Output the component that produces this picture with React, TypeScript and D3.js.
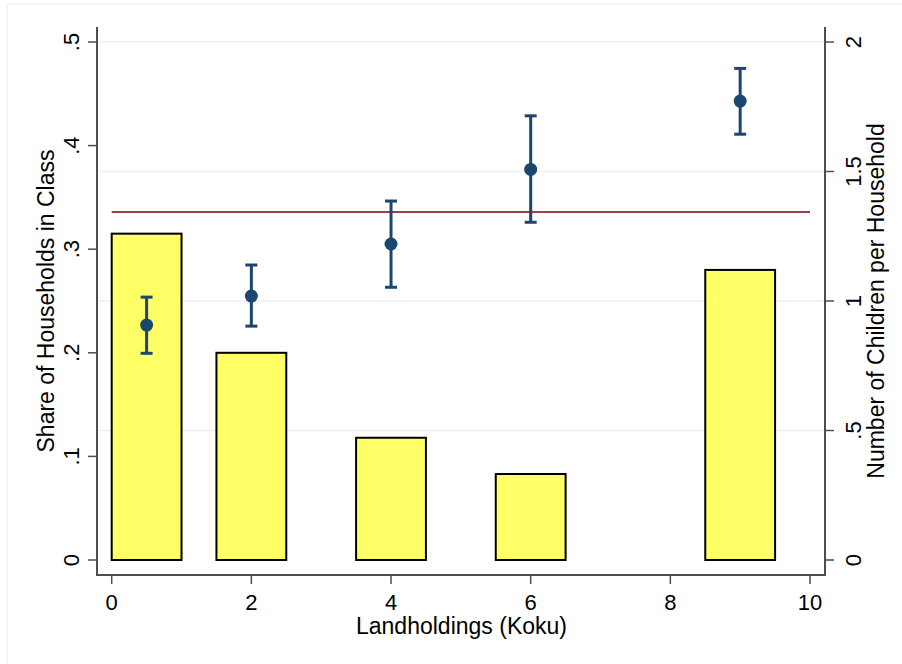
import React from 'react';
import * as d3 from 'd3';

// histogram bars: share of households in each landholding class
const barStart = [0, 1.5, 3.5, 5.5, 8.5];
const barEnd = [1, 2.5, 4.5, 6.5, 9.5];
const barShare = [0.315, 0.2, 0.118, 0.083, 0.28];

// children per household, mean with confidence interval
const pointX = [0.5, 2, 4, 6, 9];
const pointMean = [0.907, 1.019, 1.22, 1.508, 1.772];
const pointLow = [0.798, 0.903, 1.053, 1.304, 1.644];
const pointHigh = [1.015, 1.139, 1.386, 1.715, 1.898];

// overall mean line (right axis)
const overallMean = 1.344;

const xTicks = [0, 2, 4, 6, 8, 10];
const leftTicks = [0, 0.1, 0.2, 0.3, 0.4, 0.5];
const rightTicks = [0, 0.5, 1, 1.5, 2];

const font = '"Liberation Sans", Arial, sans-serif';
const fmtLeft = (v: number) => (v === 0 ? '0' : d3.format('.1f')(v).replace(/^0/, ''));
const fmtRight = (v: number) => (v === 0 ? '0' : String(v).replace(/^0/, ''));

export default function App() {
  const w = 902;
  const h = 664;
  const left = 97;
  const right = 825;
  const top = 27;
  const bottom = 575;

  const x = d3.scaleLinear().domain([0, 10]).range([111.7, 810]);
  const yL = d3.scaleLinear().domain([0, 0.5]).range([560, 42]);
  const yR = d3.scaleLinear().domain([0, 2]).range([560, 42]);

  const axisCol = '#4d4d4d';
  const navy = '#1a476f';

  return (
    <svg width={w} height={h} style={{ position: 'absolute', left: 0, top: 0, background: '#fff' }} fontFamily={font}>
      <rect x={7} y={4} width={w} height={h} fill="#fff" stroke="#eeeeee" />

      {/* gridlines follow the right axis */}
      {rightTicks.filter(t => t > 0).map(t => (
        <line key={'g' + t} x1={left} x2={right} y1={yR(t)} y2={yR(t)} stroke="#eaf2f3" strokeWidth={1.5} />
      ))}

      {/* bars */}
      {barShare.map((v, i) => (
        <rect key={'b' + i} x={x(barStart[i])} y={yL(v)} width={x(barEnd[i]) - x(barStart[i])}
          height={yL(0) - yL(v)} fill="#ffff66" stroke="#000" strokeWidth={2} />
      ))}

      {/* mean line */}
      <line x1={x(0)} x2={x(10)} y1={yR(overallMean)} y2={yR(overallMean)} stroke="#a0404a" strokeWidth={2} />

      {/* error bars and points */}
      {pointX.map((px, i) => (
        <g key={'p' + i} stroke={navy} strokeWidth={3}>
          <line x1={x(px)} x2={x(px)} y1={yR(pointLow[i])} y2={yR(pointHigh[i])} />
          <line x1={x(px) - 6} x2={x(px) + 6} y1={yR(pointLow[i])} y2={yR(pointLow[i])} />
          <line x1={x(px) - 6} x2={x(px) + 6} y1={yR(pointHigh[i])} y2={yR(pointHigh[i])} />
          <circle cx={x(px)} cy={yR(pointMean[i])} r={6.5} fill={navy} stroke="none" />
        </g>
      ))}

      {/* axes */}
      <g stroke={axisCol} strokeWidth={2} fill="none">
        <line x1={left} x2={left} y1={top} y2={bottom + 1} />
        <line x1={right} x2={right} y1={top} y2={bottom + 1} />
        <line x1={left - 1} x2={right + 1} y1={bottom} y2={bottom} />
      </g>

      {leftTicks.map(t => (
        <g key={'l' + t}>
          <line x1={left - 9} x2={left} y1={yL(t)} y2={yL(t)} stroke={axisCol} strokeWidth={1.5} />
          <text transform={`translate(79,${yL(t)}) rotate(-90)`} textAnchor="middle" fontSize={22} fill="#000">{fmtLeft(t)}</text>
        </g>
      ))}
      {rightTicks.map(t => (
        <g key={'r' + t}>
          <line x1={right} x2={right + 9} y1={yR(t)} y2={yR(t)} stroke={axisCol} strokeWidth={1.5} />
          <text transform={`translate(845,${yR(t)}) rotate(-90)`} textAnchor="middle" fontSize={22} fill="#000"
            dominantBaseline="hanging">{fmtRight(t)}</text>
        </g>
      ))}
      {xTicks.map(t => (
        <g key={'x' + t}>
          <line x1={x(t)} x2={x(t)} y1={bottom} y2={bottom + 9} stroke={axisCol} strokeWidth={1.5} />
          <text x={x(t)} y={610} textAnchor="middle" fontSize={22} fill="#000">{t}</text>
        </g>
      ))}

      <text x={461.5} y={634} textAnchor="middle" fontSize={23} fill="#000">Landholdings (Koku)</text>
      <text transform={`translate(54,301) rotate(-90)`} textAnchor="middle" fontSize={23} fill="#000">Share of Households in Class</text>
      <text transform={`translate(867,301) rotate(-90)`} textAnchor="middle" fontSize={23} fill="#000"
        dominantBaseline="hanging">Number of Children per Household</text>
    </svg>
  );
}
